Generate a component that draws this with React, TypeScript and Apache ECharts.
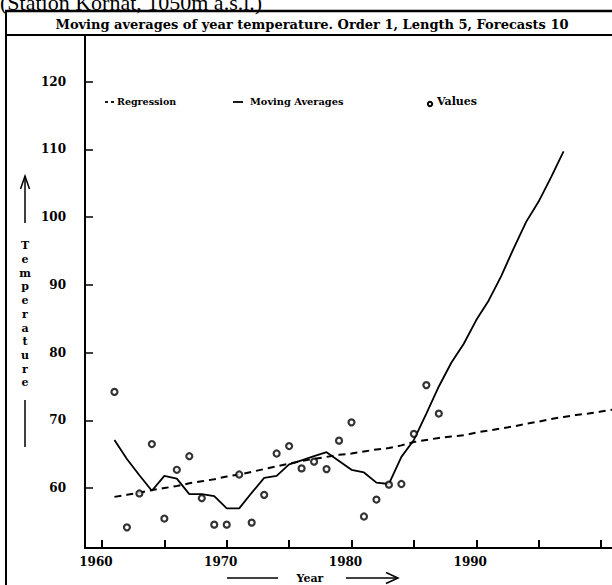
import React, { useEffect, useRef } from "react";
import * as echarts from "echarts";

const years: number[] = [1961,1962,1963,1964,1965,1966,1967,1968,1969,1970,1971,1972,1973,1974,1975,1976,1977,1978,1979,1980,1981,1982,1983,1984,1985,1986,1987];
const values: number[] = [74.2,54.2,59.2,66.5,55.5,62.7,64.7,58.5,54.6,54.6,62.0,54.9,59.0,65.1,66.2,62.9,63.9,62.8,67.0,69.7,55.8,58.3,60.5,60.6,68.0,75.2,71.0];

const maYears: number[] = [1961,1962,1963,1964,1965,1966,1967,1968,1969,1970,1971,1972,1973,1974,1975,1976,1977,1978,1979,1980,1981,1982,1983,1984,1985,1986,1987,1988,1989,1990,1991,1992,1993,1994,1995,1996,1997];
const maValues: number[] = [67.1,64.3,61.9,59.6,61.8,61.4,59.1,59.1,58.8,57.0,57.0,59.3,61.5,61.8,63.5,64.1,64.7,65.3,64.0,62.7,62.3,60.8,60.6,64.6,67.1,71.0,75.0,78.5,81.3,84.8,87.7,91.3,95.4,99.3,102.3,105.9,109.7];

const regYears: number[] = [1961,1962,1963,1964,1965,1966,1967,1968,1969,1970,1971,1972,1973,1974,1975,1976,1977,1978,1979,1980,1981,1982,1983,1984,1985,1986,1987,1988,1989,1990,1991,1992,1993,1994,1995,1996,1997,1998,1999,2000,2001];
const regValues: number[] = [58.7,59.0,59.3,59.7,60.0,60.3,60.7,61.0,61.3,61.7,62.0,62.4,62.8,63.2,63.6,64.0,64.3,64.6,64.9,65.1,65.4,65.7,65.9,66.3,66.8,67.1,67.4,67.6,67.8,68.2,68.5,68.8,69.1,69.5,69.8,70.2,70.5,70.8,71.0,71.3,71.6];

const xTicks: number[] = [1960,1965,1970,1975,1980,1985,1990,1995,2000];
const xLabels: number[] = [1960,1970,1980,1990];
const yTicks: number[] = [60,70,80,90,100,110,120];

const titleText = "Moving averages of year temperature. Order 1, Length 5, Forecasts 10";
const headerText = "(Station Kornat, 1050m a.s.l.)";
const legendItems: string[] = ["Regression", "Moving Averages", "Values"];
const yName = "Temperature";
const xName = "Year";

const BOLD = "DejaVu Serif";

export default function App() {
  const ref = useRef<HTMLDivElement>(null);
  useEffect(() => {
    if (!ref.current) return;
    const chart = echarts.init(ref.current, null, { renderer: "svg" });
    const black = "#000";
    const line = (x1: number, y1: number, x2: number, y2: number, w = 1.5) => ({
      type: "line",
      shape: { x1, y1, x2, y2 },
      style: { stroke: black, lineWidth: w },
      silent: true,
    });
    const option: any = {
      animation: false,
      backgroundColor: "#fff",
      grid: { left: 85, top: 35, width: 527, bottom: 37, containLabel: false },
      xAxis: {
        type: "value",
        min: 1958.64,
        max: 1960 + (612 - 101) / 12.5,
        axisLine: { show: true, lineStyle: { color: black, width: 2 } },
        axisTick: { show: true, inside: true, length: 8, lineStyle: { color: black, width: 2 }, customValues: xTicks },
        axisLabel: {
          show: true,
          customValues: xLabels,
          formatter: (v: number) => String(v),
          color: black,
          fontFamily: BOLD,
          fontWeight: "bold",
          fontSize: 12,
          margin: 8,
          padding: [0, 12, 0, 0],
        },
        splitLine: { show: false },
      },
      yAxis: {
        type: "value",
        min: 51.15,
        max: 126.89,
        axisLine: { show: true, lineStyle: { color: black, width: 2 } },
        axisTick: { show: true, inside: true, length: 8, lineStyle: { color: black, width: 1.5 }, customValues: yTicks },
        axisLabel: {
          show: true,
          customValues: yTicks,
          formatter: (v: number) => String(v),
          color: black,
          fontFamily: BOLD,
          fontWeight: "bold",
          fontSize: 12,
          margin: 19,
          padding: [4, 0, 0, 0],
        },
        splitLine: { show: false },
      },
      series: [
        {
          name: legendItems[0],
          type: "line",
          data: regYears.map((y, i) => [y, regValues[i]]),
          showSymbol: false,
          lineStyle: { color: black, width: 2, type: [7, 5] },
          z: 2,
        },
        {
          name: legendItems[1],
          type: "line",
          data: maYears.map((y, i) => [y, maValues[i]]),
          showSymbol: false,
          lineStyle: { color: black, width: 1.8 },
          z: 3,
        },
        {
          name: legendItems[2],
          type: "scatter",
          data: years.map((y, i) => [y, values[i]]),
          symbol: "circle",
          symbolSize: 6,
          itemStyle: { color: "#fff", borderColor: black, borderWidth: 2.2 },
          z: 4,
        },
      ],
      graphic: [
        line(5, 11, 612, 11, 2.5),
        line(5, 35, 612, 35, 2),
        line(6, 11, 6, 585, 2),
        {
          type: "text",
          left: 0,
          top: -9,
          style: { text: headerText, font: "22px 'Liberation Serif'", fill: black },
          silent: true,
        },
        {
          type: "text",
          x: 312,
          y: 24.5,
          style: { text: titleText, fontFamily: BOLD, fontWeight: "bold", fontSize: 13, fill: black, align: "center", verticalAlign: "middle" },
          silent: true,
        },
        // legend
        line(105, 102, 108, 102, 1.8),
        line(111, 102, 114, 102, 1.8),
        {
          type: "text", x: 117, y: 101,
          style: { text: legendItems[0], fontFamily: BOLD, fontWeight: "bold", fontSize: 9.5, fill: black, verticalAlign: "middle" },
        },
        line(233, 102, 243, 102, 1.8),
        {
          type: "text", x: 250, y: 101,
          style: { text: legendItems[1], fontFamily: BOLD, fontWeight: "bold", fontSize: 9.8, fill: black, verticalAlign: "middle" },
        },
        {
          type: "circle", shape: { cx: 430, cy: 104, r: 2.2 },
          style: { fill: "#fff", stroke: black, lineWidth: 2 },
        },
        {
          type: "text", x: 437, y: 101,
          style: { text: legendItems[2], fontFamily: BOLD, fontWeight: "bold", fontSize: 11, fill: black, verticalAlign: "middle" },
        },
        // y axis name
        line(25, 176, 25, 223, 1.5),
        { type: "polyline", shape: { points: [[20.5, 189], [25, 176], [29.5, 189]] }, style: { stroke: black, lineWidth: 1.5, fill: null } },
        {
          type: "text", x: 25, y: 239,
          style: { text: yName.split("").join("\n"), fontFamily: BOLD, fontWeight: "bold", fontSize: 11, lineHeight: 13.7, fill: black, align: "center", verticalAlign: "top" },
        },
        line(25, 400, 25, 447, 1.5),
        // x axis name
        line(227, 578, 278, 578, 1.5),
        {
          type: "text", x: 310, y: 578,
          style: { text: xName, fontFamily: BOLD, fontWeight: "bold", fontSize: 11, fill: black, align: "center", verticalAlign: "middle" },
        },
        line(346, 578, 398, 578, 1.5),
        { type: "polyline", shape: { points: [[386, 572.5], [398, 578], [386, 583.5]] }, style: { stroke: black, lineWidth: 1.5, fill: null } },
      ],
    };
    chart.setOption(option);
    return () => chart.dispose();
  }, []);
  return (
    <div
      ref={ref}
      style={{ position: "fixed", left: 0, top: 0, width: 612, height: 585, background: "#fff" }}
    />
  );
}
